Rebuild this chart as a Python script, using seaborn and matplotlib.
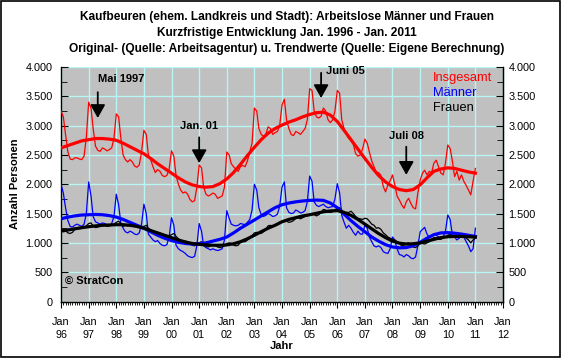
"""
Kaufbeuren: Arbeitslose Maenner und Frauen, Jan. 1996 - Jan. 2011.
Monthly original values (thin lines) and trend values (thick lines).
"""

import matplotlib.pyplot as plt
import matplotlib.dates as mdates
import pandas as pd
import seaborn as sns
from matplotlib.patches import Rectangle
from matplotlib.ticker import FuncFormatter, MultipleLocator

plt.rcParams["font.family"] = ["Liberation Sans", "DejaVu Sans"]

# monthly values Jan 1996 - Jan 2011 (one row per year)
insgesamt = [
    3250, 3150, 2850, 2550, 2430, 2420, 2450, 2450, 2430, 2420, 2480, 2800,
    3400, 3300, 2950, 2650, 2580, 2560, 2620, 2600, 2570, 2590, 2620, 2780,
    3200, 3150, 2800, 2500, 2420, 2380, 2420, 2380, 2310, 2290, 2330, 2550,
    2920, 2850, 2500, 2420, 2300, 2200, 2250, 2220, 2150, 2130, 2150, 2260,
    2570, 2480, 2150, 2000, 1900, 1850, 1870, 1830, 1740, 1700, 1720, 1950,
    2330, 2280, 1950, 1830, 1800, 1820, 1850, 1830, 1760, 1780, 1800, 1950,
    2550, 2500, 2350, 2300, 2250, 2220, 2300, 2320, 2300, 2400, 2550, 2700,
    3300, 3250, 2950, 2850, 2820, 2850, 2980, 2950, 2850, 2880, 2900, 3000,
    3350, 3450, 3100, 2950, 2850, 2830, 2900, 2880, 2850, 2900, 2950, 3100,
    3630, 3600, 3250, 3150, 3130, 3160, 3300, 3250, 3100, 3050, 3100, 3250,
    3600, 3550, 3100, 2950, 2850, 2780, 2750, 2680, 2520, 2480, 2500, 2600,
    2770, 2700, 2550, 2400, 2300, 2200, 2200, 2150, 1960, 1870, 1990, 2060,
    2160, 1990, 1800, 1730, 1650, 1590, 1700, 1760, 1670, 1600, 1580, 1850,
    2070, 2190, 2240, 2160, 2220, 2200, 2360, 2410, 2300, 2190, 2160, 2360,
    2670, 2610, 2410, 2130, 2220, 2070, 2160, 2050, 1980, 1900, 1820, 2050,
    2270,
]
maenner = [
    2000, 1850, 1600, 1380, 1280, 1270, 1300, 1320, 1300, 1280, 1320, 1500,
    2040, 1800, 1450, 1360, 1340, 1320, 1340, 1330, 1310, 1300, 1330, 1450,
    1830, 1650, 1350, 1250, 1190, 1170, 1200, 1180, 1150, 1140, 1170, 1320,
    1660, 1500, 1150, 1100, 1050, 1020, 1040, 990, 960, 950, 970, 1100,
    1430, 1300, 960, 900, 870, 850, 820, 780, 760, 750, 770, 950,
    1330, 1200, 950, 920, 900, 880, 900, 880, 870, 880, 900, 1050,
    1550, 1420, 1320, 1300, 1290, 1300, 1330, 1320, 1310, 1350, 1400, 1560,
    2000, 1900, 1600, 1480, 1450, 1470, 1500, 1480, 1450, 1460, 1490, 1620,
    1950, 2040, 1600, 1520, 1500, 1510, 1560, 1540, 1510, 1520, 1550, 1700,
    2140, 2050, 1700, 1640, 1620, 1640, 1660, 1620, 1600, 1610, 1620, 1750,
    2010, 1850, 1470, 1350, 1250, 1300, 1250, 1180, 1130, 1200, 1150, 1150,
    1300, 1250, 1100, 1020, 950, 930, 950, 920, 850, 830, 820, 900,
    1100, 1050, 900, 800, 790, 760, 800, 780, 740, 730, 760, 950,
    1190, 1230, 1265, 1150, 1100, 1120, 1150, 1130, 1100, 1080, 1100, 1200,
    1475, 1400, 1150, 1100, 1050, 1080, 1130, 1100, 1020, 950, 850, 900,
    1250,
]
frauen = [
    1200, 1230, 1210, 1170, 1160, 1180, 1230, 1250, 1240, 1250, 1270, 1290,
    1330, 1340, 1290, 1260, 1270, 1280, 1300, 1310, 1280, 1290, 1300, 1320,
    1350, 1370, 1330, 1280, 1300, 1290, 1310, 1320, 1290, 1280, 1270, 1280,
    1280, 1300, 1250, 1220, 1200, 1170, 1180, 1170, 1140, 1120, 1110, 1120,
    1140, 1160, 1110, 1070, 1040, 1020, 1030, 1020, 980, 960, 950, 980,
    1000, 1020, 980, 940, 930, 950, 970, 960, 930, 920, 930, 950,
    990, 1000, 990, 960, 950, 960, 1010, 1020, 1020, 1050, 1080, 1120,
    1170, 1180, 1170, 1160, 1190, 1230, 1290, 1300, 1280, 1300, 1320, 1350,
    1370, 1380, 1370, 1350, 1360, 1380, 1420, 1430, 1410, 1430, 1450, 1460,
    1480, 1500, 1480, 1460, 1480, 1520, 1570, 1560, 1530, 1520, 1530, 1560,
    1590, 1600, 1560, 1510, 1520, 1520, 1540, 1500, 1450, 1420, 1410, 1400,
    1420, 1410, 1370, 1320, 1300, 1250, 1260, 1230, 1170, 1140, 1100, 1080,
    1060, 1050, 1020, 990, 950, 960, 990, 1000, 960, 930, 920, 950,
    990, 990, 980, 1000, 1020, 1060, 1090, 1080, 1060, 1060, 1080, 1100,
    1130, 1150, 1120, 1100, 1110, 1130, 1150, 1120, 1080, 1050, 1000, 1050,
    1080,
]

# trend values, quarterly (Jan, Apr, Jul, Oct) Jan 1996 - Jan 2011
trend_insgesamt = [
    2620, 2660, 2700, 2740, 2760, 2780, 2780, 2770, 2750, 2700, 2640, 2580,
    2520, 2440, 2350, 2270, 2190, 2110, 2040, 1990, 1960, 1950, 1960, 2010,
    2090, 2200, 2340, 2490, 2630, 2760, 2870, 2950, 3010, 3060, 3100, 3150,
    3190, 3220, 3230, 3180, 3070, 2920, 2760, 2600, 2440, 2290, 2150, 2040,
    1960, 1910, 1890, 1910, 1990, 2110, 2220, 2260, 2280, 2270, 2240, 2210,
    2190,
]
trend_maenner = [
    1410, 1440, 1460, 1475, 1480, 1485, 1480, 1465, 1440, 1400, 1350, 1300,
    1250, 1190, 1130, 1080, 1040, 1010, 990, 980, 985, 1000, 1030, 1060,
    1100, 1170, 1250, 1320, 1390, 1460, 1530, 1600, 1650, 1680, 1700, 1715,
    1725, 1730, 1725, 1680, 1600, 1490, 1380, 1280, 1190, 1100, 1030, 970,
    930, 915, 920, 950, 1010, 1080, 1140, 1170, 1175, 1165, 1150, 1130,
    1110,
]
trend_frauen = [
    1200, 1220, 1240, 1260, 1275, 1290, 1300, 1305, 1310, 1310, 1300, 1280,
    1250, 1210, 1170, 1130, 1090, 1050, 1015, 990, 975, 965, 960, 960,
    965, 985, 1020, 1070, 1130, 1190, 1250, 1300, 1360, 1400, 1430, 1460,
    1480, 1505, 1530, 1545, 1550, 1520, 1470, 1400, 1320, 1240, 1160, 1090,
    1030, 995, 980, 985, 1000, 1030, 1060, 1090, 1105, 1110, 1110, 1105,
    1100,
]

series = ["Insgesamt", "Männer", "Frauen"]
colors = {"Insgesamt": "#ff0000", "Männer": "#0000ff", "Frauen": "#000000"}

months = pd.date_range("1996-01-01", periods=len(insgesamt), freq="MS")
quarters = pd.date_range("1996-01-01", periods=len(trend_insgesamt), freq="QS")

orig = pd.DataFrame({"Monat": months, "Insgesamt": insgesamt,
                     "Männer": maenner, "Frauen": frauen})
orig = orig.melt(id_vars="Monat", var_name="Gruppe", value_name="Anzahl")
trend = pd.DataFrame({"Monat": quarters, "Insgesamt": trend_insgesamt,
                      "Männer": trend_maenner, "Frauen": trend_frauen})
trend = trend.melt(id_vars="Monat", var_name="Gruppe", value_name="Anzahl")

fig = plt.figure(figsize=(5.61, 3.58), dpi=100)
fig.patches.append(Rectangle((0.001, 0.002), 0.997, 0.995, transform=fig.transFigure,
                             fill=False, edgecolor="black", linewidth=1.2))
ax = fig.add_axes([61 / 561, 56.5 / 358, 442 / 561, 234.5 / 358])
ax.set_facecolor("#c0c0c0")

sns.lineplot(data=orig, x="Monat", y="Anzahl", hue="Gruppe", hue_order=series,
             palette=colors, linewidth=0.9, legend=False, ax=ax, zorder=3)
sns.lineplot(data=trend, x="Monat", y="Anzahl", hue="Gruppe", hue_order=series,
             palette=colors, linewidth=2.3, legend=False, ax=ax, zorder=4)

ax.set_xlim(pd.Timestamp("1996-01-01"), pd.Timestamp("2012-01-01"))
ax.set_ylim(0, 4000)

ax.xaxis.set_major_locator(mdates.YearLocator())
ax.xaxis.set_minor_locator(mdates.MonthLocator())
ax.xaxis.set_major_formatter(FuncFormatter(
    lambda v, p: "Jan\n" + mdates.num2date(v).strftime("%y")))
ax.yaxis.set_major_locator(MultipleLocator(500))
ax.yaxis.set_minor_locator(MultipleLocator(250))
fmt = FuncFormatter(lambda v, p: f"{v:,.0f}".replace(",", "."))
ax.yaxis.set_major_formatter(fmt)

ax.grid(True, which="major", color="#b8f6f6", linewidth=1)
ax.set_axisbelow(True)
for s in ["left", "right", "bottom"]:
    ax.spines[s].set_color("black")
    ax.spines[s].set_linewidth(1)
ax.spines["top"].set_visible(False)

ax.tick_params(axis="y", which="major", direction="in", length=5, labelsize=7.8, pad=6)
ax.tick_params(axis="y", which="minor", direction="in", length=4)
ax.tick_params(axis="x", which="major", direction="out", length=4, labelsize=7.8, pad=7)
ax.tick_params(axis="x", which="minor", direction="out", length=2)
for t in ax.get_xticklabels():
    t.set_linespacing(1.45)

ax2 = ax.twinx()
ax2.set_ylim(0, 4000)
ax2.yaxis.set_major_locator(MultipleLocator(500))
ax2.yaxis.set_minor_locator(MultipleLocator(250))
ax2.yaxis.set_major_formatter(fmt)
ax2.tick_params(axis="y", which="major", direction="in", length=5, labelsize=7.8, pad=4)
ax2.tick_params(axis="y", which="minor", direction="in", length=4)
for s in ["left", "top", "bottom"]:
    ax2.spines[s].set_visible(False)

ax.set_xlabel("")
ax.set_ylabel("")
fig.text(15 / 561, 1 - 184 / 358, "Anzahl Personen", rotation=90, fontsize=8,
         fontweight="bold", ha="center", va="center")
fig.text(282 / 561, 1 - 346 / 358, "Jahr", fontsize=8, fontweight="bold",
         ha="center", va="center")

titel = ["Kaufbeuren (ehem. Landkreis und Stadt): Arbeitslose Männer und Frauen",
         "Kurzfristige Entwicklung Jan. 1996 - Jan. 2011",
         "Original- (Quelle: Arbeitsagentur) u. Trendwerte (Quelle: Eigene Berechnung)"]
for i, zeile in enumerate(titel):
    fig.text(287 / 561, 1 - (17 + 16 * i) / 358, zeile, fontsize=8.6,
             fontweight="bold", ha="center", va="center")

# legend as coloured text
for i, name in enumerate(series):
    ax.text(0.842, 0.953 - 0.064 * i, name, color=colors[name], fontsize=9.3,
            transform=ax.transAxes, ha="left", va="center")

ax.text(0.01, 0.089, "© StratCon", fontsize=8, fontweight="bold",
        transform=ax.transAxes, ha="left", va="center")

# event markers
ereignisse = [
    ("Mai 1997", "1997-05-01", 3800, 3570, 3130, "left"),
    ("Jan. 01", "2001-01-01", 2990, 2800, 2360, "center"),
    ("Juni 05", "2005-06-01", 3930, 3900, 3470, "left"),
    ("Juli 08", "2008-07-01", 2820, 2640, 2160, "center"),
]
for text, datum, ty, y0, y1, ha in ereignisse:
    d = pd.Timestamp(datum)
    tx = d + pd.Timedelta(days=60) if text == "Juni 05" else d
    ax.text(tx, ty, text, fontsize=8, fontweight="bold", ha=ha, va="center")
    ax.annotate("", xy=(d, y1), xytext=(d, y0),
                arrowprops=dict(arrowstyle="-|>,head_width=0.45,head_length=0.8",
                                color="black", lw=1.3, shrinkA=0, shrinkB=0),
                zorder=6)

fig.savefig("out.png", dpi=100)
